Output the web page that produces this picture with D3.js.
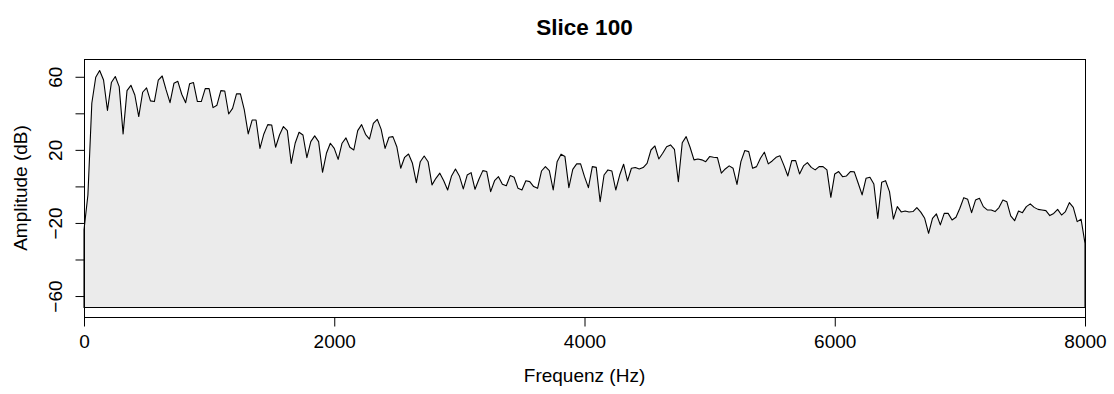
<!DOCTYPE html>
<html>
<head>
<meta charset="utf-8">
<script src="https://cdn.jsdelivr.net/npm/d3@7"></script>
<style>
  body { margin: 0; background: #fff; }
  text { font-family: "Liberation Sans", Arial, sans-serif; fill: #000; }
</style>
</head>
<body>
<script>
// spectrum of one slice (dB per FFT bin, 0..8000 Hz)
var amplitudes = [
  -23.5, -4.4, 45.8, 60, 63.7, 58.5, 41.8, 57.1, 60.4, 54.9,
  29, 52.7, 55.6, 50.3, 38.5, 51.8, 54.2, 47.1, 46.7, 58.5,
  60.7, 53.1, 46.1, 56.7, 57.8, 50.7, 46.1, 56.4, 57.1, 46.7,
  46.7, 53.8, 53.8, 43.4, 44.7, 52.7, 52.5, 39.9, 43, 50.9,
  50.9, 42.1, 29, 36.6, 36.6, 21.1, 29, 34.1, 33.9, 21.7,
  28.4, 33, 30.8, 12.9, 23.9, 29.9, 28.4, 16, 24.8, 27.9,
  24.8, 8, 18.4, 23.9, 21.1, 15.1, 23.9, 26.8, 21.7, 20.2,
  30.8, 34.1, 28.8, 26.2, 34.8, 37, 31.5, 21.1, 27.2, 27.5,
  22, 10.2, 16.2, 18, 12.9, 2.3, 13.8, 16.9, 13.8, 1.1,
  4.7, 7.5, 3.4, -1.7, 6, 9.8, 6, -1.1, 6.5, 7.8,
  -1.3, 4.2, 8.9, 8.4, -2.6, 3.4, 5.6, 1.4, 0.6, 6.2,
  5.3, -0.8, -1.7, 3.4, 2.9, 0.2, -0.8, 8.7, 11.1, 8.9,
  -1.7, 13.8, 17.9, 16.6, -0.4, 9.6, 12.6, 12.6, 5.6, -0.4,
  11.1, 10.7, -8.1, 6.5, 9.3, 8.7, -1.7, 6.5, 12.4, 3.3,
  10.2, 10.6, 9.8, 10.6, 12.9, 20.2, 22.4, 15.3, 18.4, 22,
  23, 20.6, 2.9, 24.2, 27.5, 21.7, 14.8, 15.3, 14.8, 13.8,
  16.6, 16.2, 16, 7.5, 9.8, 11.5, 10.2, 1.4, 13.8, 19.9,
  19.3, 10.2, 11.1, 15.7, 19, 12.6, 14.2, 16.2, 17, 11.8,
  6, 14.4, 14.4, 7.1, 11.5, 13.3, 10.7, 9.3, 11.1, 11.1,
  9.3, -5.7, 7.1, 8.4, 5.6, 6, 8.4, 8.2, 2, -4.4,
  4.7, 5.3, 1.6, -17.2, 2.5, 3.4, -2.6, -17.6, -10.8, -13.7,
  -13.2, -13.7, -13.5, -11.3, -13.8, -17.2, -25.4, -17.2, -14.8, -20.8,
  -14.5, -14.5, -18.1, -16.6, -11.7, -5.9, -6.8, -14.1, -7.2, -6.2,
  -10.8, -12.6, -12.6, -13.5, -11.3, -7.2, -8.1, -15.9, -18.5, -13.2,
  -14.1, -10.8, -9.3, -11.2, -12.3, -12.6, -13, -15.7, -14.5, -12.3,
  -15.4, -13.5, -8.6, -11.2, -19, -17.7, -30.9
];
var maxHz = 8000;
var binHz = maxHz / (amplitudes.length - 1);
var floorDb = -66;           // bottom edge of the filled polygon
var xTicks = [0, 2000, 4000, 6000, 8000];
var yTicks = [-60, -40, -20, 0, 20, 40, 60];
var yLabels = [-60, -20, 20, 60];   // R drops the ones that would overlap

var width = 1114;
var height = 394;
// note: can't call it "top", that's window.top
var plotL = 84, plotR = 1085, plotT = 59, plotB = 317;

var svg = d3.select('body').append('svg')
  .attr('width', width)
  .attr('height', height);

var x = d3.scaleLinear().domain([0, maxHz]).range([plotL, plotR]);
var y = d3.scaleLinear().domain([-71.2, 70]).range([plotB, plotT]);

var points = amplitudes.map(function(a, i){ return {f: i * binHz, a: a}; });

//filled spectrum
var area = d3.area()
  .x(function(d){ return x(d.f); })
  .y0(y(floorDb))
  .y1(function(d){ return y(d.a); });

svg.append('path')
  .datum(points)
  .attr('d', function(d){ return area(d) + 'Z'; })
  .style('fill', '#ebebeb')
  .style('stroke', '#000')
  .style('stroke-width', 1.1)
  .style('stroke-linejoin', 'round');

//box
svg.append('rect')
  .attr('x', plotL + 0.5).attr('y', plotT + 0.5)
  .attr('width', plotR - plotL).attr('height', plotB - plotT)
  .style('fill', 'none')
  .style('stroke', '#000');

//axes
var xAxis = d3.axisBottom(x).tickValues(xTicks).tickSize(9).tickPadding(8)
  .tickFormat(d3.format('d'));
svg.append('g')
  .attr('transform', 'translate(0,' + (plotB + 0.5) + ')')
  .call(xAxis)
  .call(function(g){
    g.select('.domain').remove();
    g.selectAll('text').style('font-size', '19px')
      .style('font-family', '"Liberation Sans", Arial, sans-serif');
  });

var yAxis = d3.axisLeft(y).tickValues(yTicks).tickSize(9)
  .tickFormat(function(d){ return yLabels.indexOf(d) >= 0 ? String(d).replace('-', '\u2212') : ''; });
svg.append('g')
  .attr('transform', 'translate(' + (plotL + 0.5) + ',0)')
  .call(yAxis)
  .call(function(g){
    g.select('.domain').remove();
    g.selectAll('.tick').attr('transform', null);
    g.selectAll('.tick line')
      .attr('y1', function(d){ return y(d); })
      .attr('y2', function(d){ return y(d); });
    g.selectAll('text')
      .attr('x', null).attr('dy', null).attr('y', 0)
      .attr('transform', function(d){ return 'translate(-23,' + y(d) + ') rotate(-90)'; })
      .attr('text-anchor', 'middle')
      .style('font-size', '19px')
      .style('font-family', '"Liberation Sans", Arial, sans-serif');
  });

//titles
svg.append('text')
  .attr('x', (plotL + plotR) / 2).attr('y', 35)
  .attr('text-anchor', 'middle')
  .style('font-size', '22.5px').style('font-weight', 'bold')
  .text('Slice 100');

svg.append('text')
  .attr('x', (plotL + plotR) / 2).attr('y', 382)
  .attr('text-anchor', 'middle')
  .style('font-size', '19px')
  .text('Frequenz (Hz)');

svg.append('text')
  .attr('transform', 'translate(27,' + (plotT + plotB) / 2 + ') rotate(-90)')
  .attr('text-anchor', 'middle')
  .style('font-size', '19px')
  .text('Amplitude (dB)');
</script>
</body>
</html>
